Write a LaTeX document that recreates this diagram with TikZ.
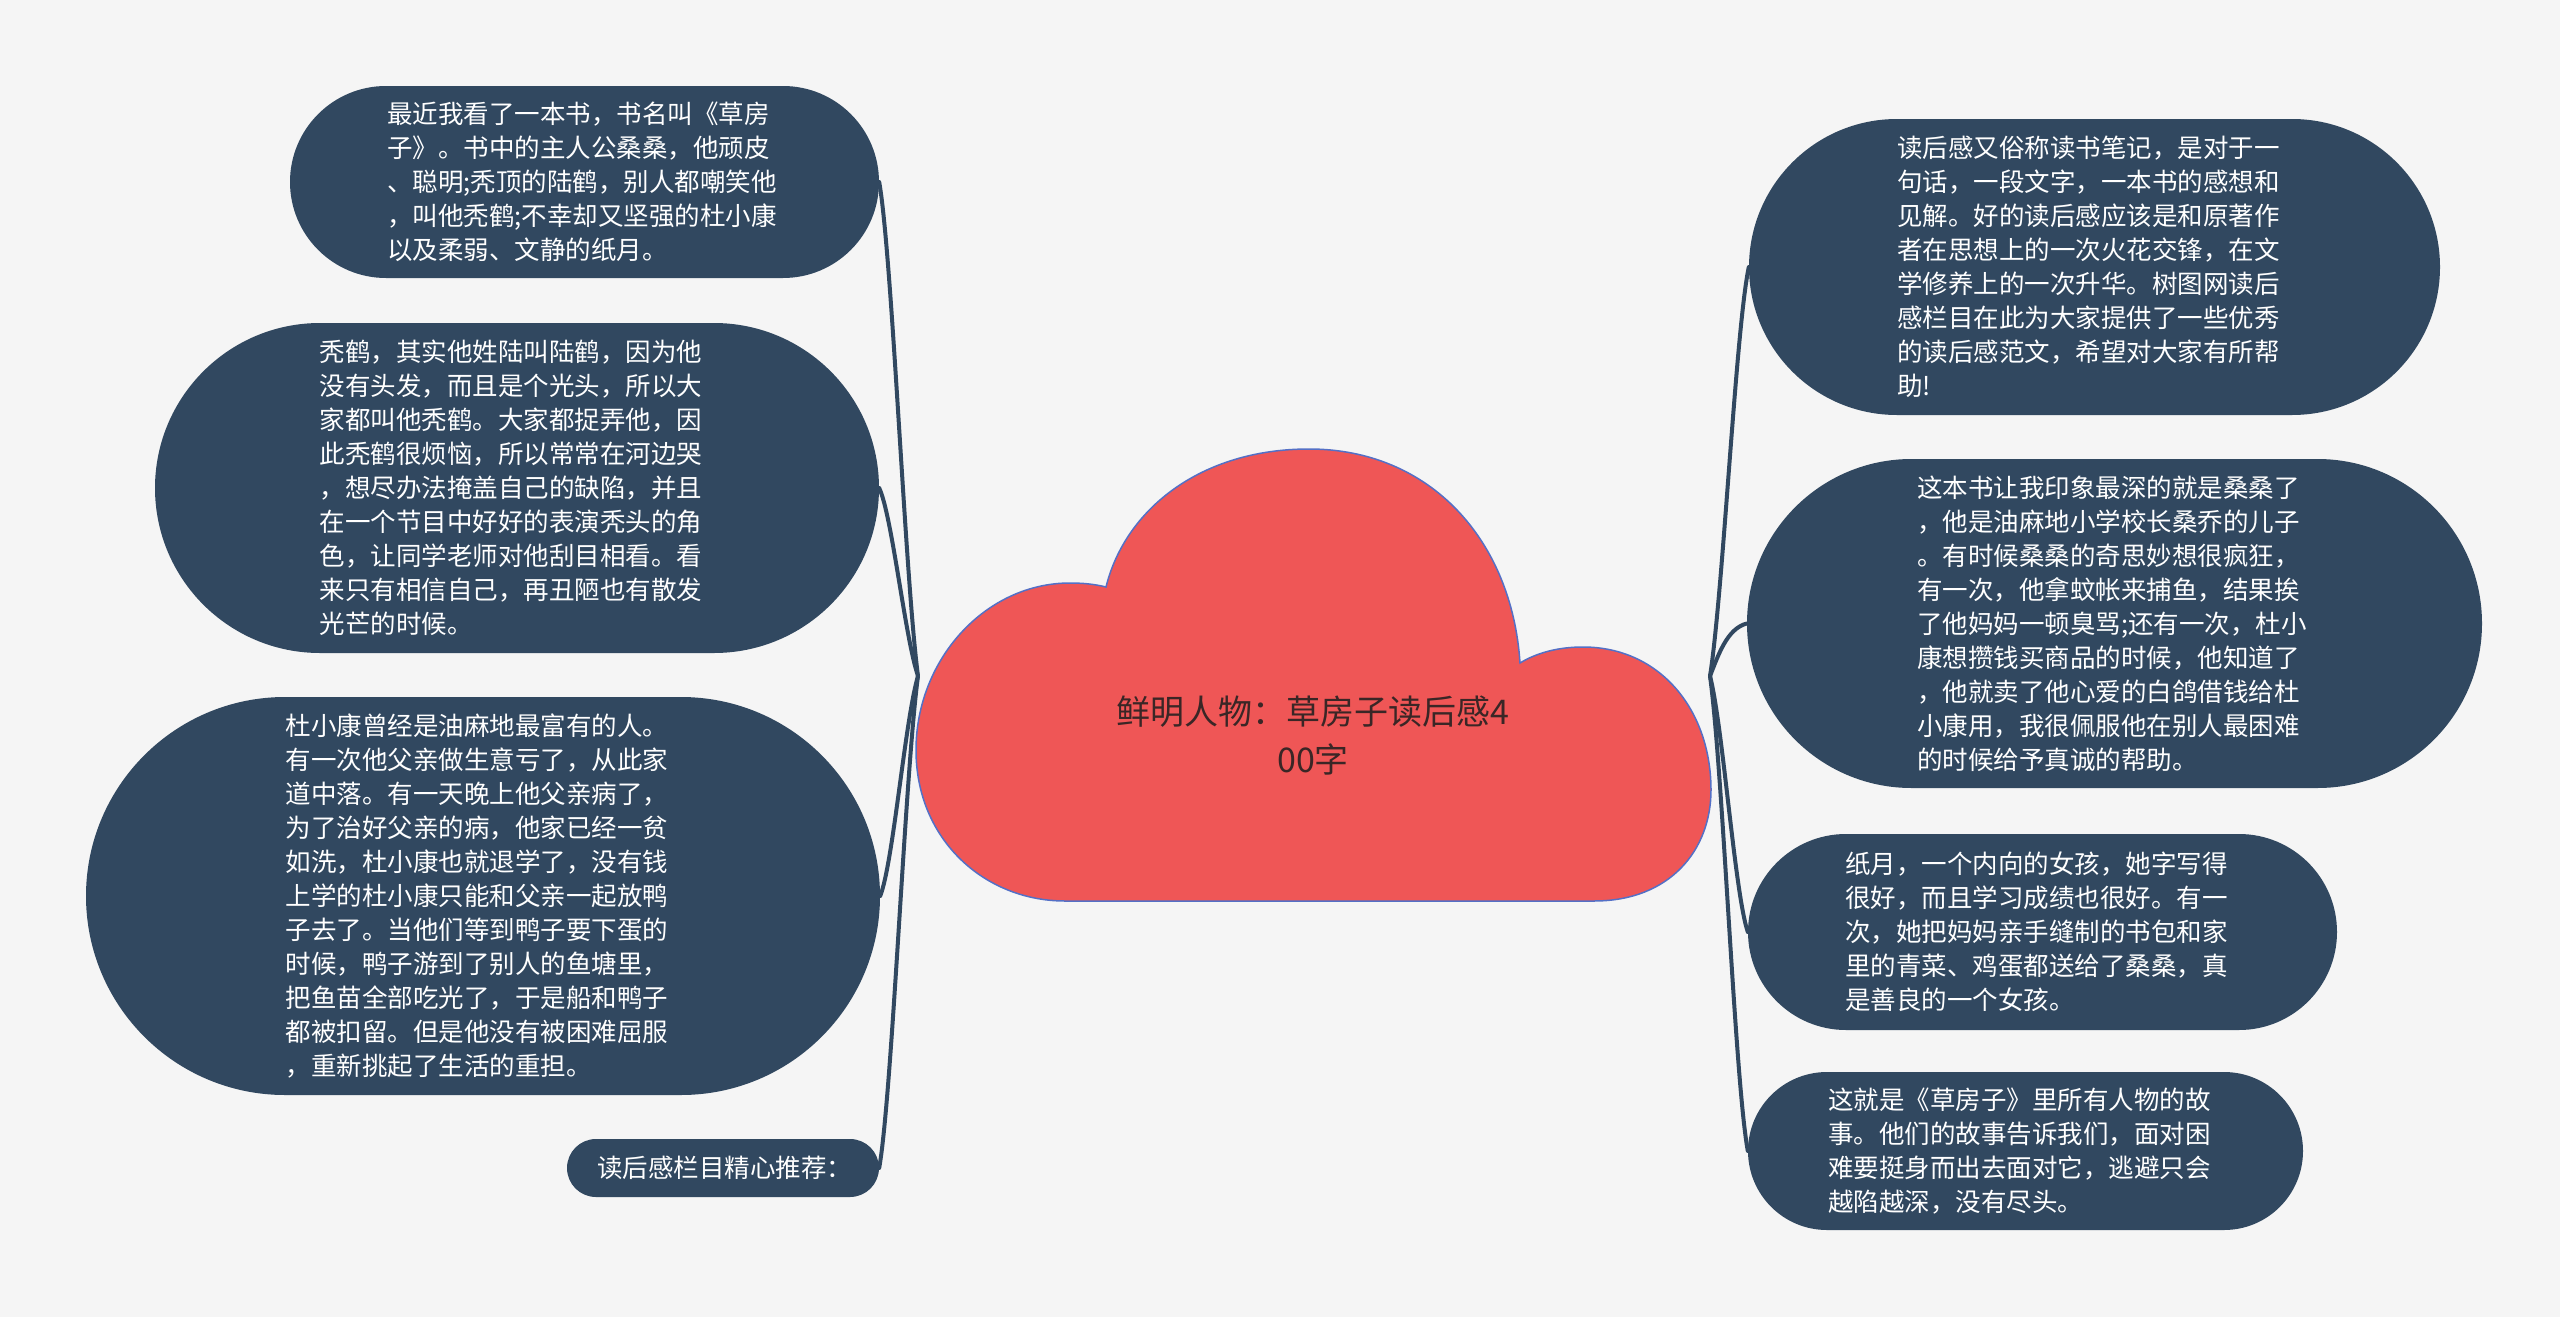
\documentclass[tikz,border=0pt]{standalone}
\usepackage{fontspec}
\newfontfamily\cjk{Noto Sans CJK SC}
\usetikzlibrary{shapes.misc}
\definecolor{bg}{HTML}{F5F5F5}
\definecolor{navy}{HTML}{314860}
\definecolor{cloudfill}{HTML}{EF5656}
\definecolor{cloudline}{HTML}{5470C6}
\definecolor{titletext}{HTML}{3A2626}
\begin{document}
\begin{tikzpicture}[x=1pt,y=-1pt,
  leaf/.style={shape=rounded rectangle, fill=navy, draw=none, text=white, inner sep=0pt, align=left, text width=395pt, font=\cjk\fontsize{25.5}{34}\selectfont},
  link/.style={draw=navy, line width=4pt, line cap=round},
  cloudshape/.style={fill=cloudfill, draw=cloudline, line width=1.5pt},
  titlestyle/.style={text=titletext, align=center, inner sep=0pt, font=\cjk\fontsize{34}{48}\selectfont}]
\useasboundingbox (0,0) rectangle (2560,1317);
\fill[bg] (0,0) rectangle (2560,1317);

% central cloud
\path[cloudshape] (1065,901) -- (1594,901)
  .. controls (1670,901) and (1711,850) .. (1711,790)
  .. controls (1711,710) and (1660,647) .. (1583,647)
  .. controls (1560,647) and (1538,652) .. (1520,663)
  .. controls (1512,540) and (1430,449) .. (1309,449)
  .. controls (1200,449) and (1125,510) .. (1106,587)
  .. controls (1094,584) and (1082,583) .. (1070,583)
  .. controls (985,583) and (916,660) .. (916,750)
  .. controls (916,840) and (985,901) .. (1065,901) -- cycle;
\node[titlestyle] (title) at (1313,736) {鲜明人物：草房子读后感4\\00字};

\coordinate (jl) at (918,676);
\coordinate (jr) at (1710,676);

% left leaves
\node[leaf, minimum width=589pt, minimum height=192pt] (L1) at (584.5,182) {最近我看了一本书，书名叫《草房\\子》。书中的主人公桑桑，他顽皮\\、聪明;秃顶的陆鹤，别人都嘲笑他\\，叫他秃鹤;不幸却又坚强的杜小康\\以及柔弱、文静的纸月。};
\node[leaf, minimum width=724pt, minimum height=330pt] (L2) at (517,488) {秃鹤，其实他姓陆叫陆鹤，因为他\\没有头发，而且是个光头，所以大\\家都叫他秃鹤。大家都捉弄他，因\\此秃鹤很烦恼，所以常常在河边哭\\，想尽办法掩盖自己的缺陷，并且\\在一个节目中好好的表演秃头的角\\色，让同学老师对他刮目相看。看\\来只有相信自己，再丑陋也有散发\\光芒的时候。};
\node[leaf, minimum width=794pt, minimum height=398pt] (L3) at (483,896) {杜小康曾经是油麻地最富有的人。\\有一次他父亲做生意亏了，从此家\\道中落。有一天晚上他父亲病了，\\为了治好父亲的病，他家已经一贫\\如洗，杜小康也就退学了，没有钱\\上学的杜小康只能和父亲一起放鸭\\子去了。当他们等到鸭子要下蛋的\\时候，鸭子游到了别人的鱼塘里，\\把鱼苗全部吃光了，于是船和鸭子\\都被扣留。但是他没有被困难屈服\\，重新挑起了生活的重担。};
\node[leaf, text width=252pt, minimum width=312pt, minimum height=58pt] (L4) at (723,1168) {读后感栏目精心推荐：};

% right leaves
\node[leaf, minimum width=691pt, minimum height=296pt] (R1) at (2094.5,267) {读后感又俗称读书笔记，是对于一\\句话，一段文字，一本书的感想和\\见解。好的读后感应该是和原著作\\者在思想上的一次火花交锋，在文\\学修养上的一次升华。树图网读后\\感栏目在此为大家提供了一些优秀\\的读后感范文，希望对大家有所帮\\助!};
\node[leaf, minimum width=735pt, minimum height=329pt] (R2) at (2114.5,623.5) {这本书让我印象最深的就是桑桑了\\，他是油麻地小学校长桑乔的儿子\\。有时候桑桑的奇思妙想很疯狂，\\有一次，他拿蚊帐来捕鱼，结果挨\\了他妈妈一顿臭骂;还有一次，杜小\\康想攒钱买商品的时候，他知道了\\，他就卖了他心爱的白鸽借钱给杜\\小康用，我很佩服他在别人最困难\\的时候给予真诚的帮助。};
\node[leaf, minimum width=589pt, minimum height=196pt] (R3) at (2042.5,932) {纸月，一个内向的女孩，她字写得\\很好，而且学习成绩也很好。有一\\次，她把妈妈亲手缝制的书包和家\\里的青菜、鸡蛋都送给了桑桑，真\\是善良的一个女孩。};
\node[leaf, minimum width=555pt, minimum height=158pt] (R4) at (2025.5,1151) {这就是《草房子》里所有人物的故\\事。他们的故事告诉我们，面对困\\难要挺身而出去面对它，逃避只会\\越陷越深，没有尽头。};

% connectors
\draw[link] (jl) .. controls +(-13,-99) and +(13,74) .. (L1.east);
\draw[link] (jl) .. controls +(-13,-38) and +(13,28) .. (L2.east);
\draw[link] (jl) .. controls +(-13,44) and +(13,-33) .. (L3.east);
\draw[link] (jl) .. controls +(-13,98) and +(13,-74) .. (L4.east);
\draw[link] (jr) .. controls +(13,-82) and +(-13,61) .. (R1.west);
\draw[link] (jr) .. controls +(8,-20) and +(-20,5) .. (R2.west);
\draw[link] (jr) .. controls +(13,51) and +(-13,-38) .. (R3.west);
\draw[link] (jr) .. controls +(13,95) and +(-13,-71) .. (R4.west);
\end{tikzpicture}
\end{document}
